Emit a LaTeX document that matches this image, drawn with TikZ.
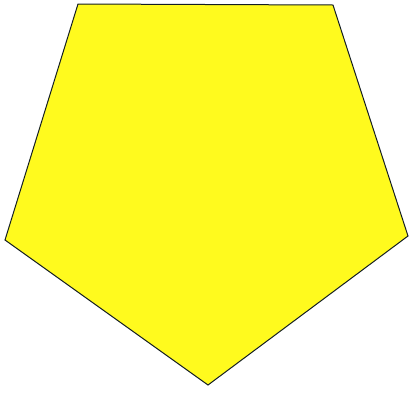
\documentclass[tikz,border=0pt]{standalone}
\usepackage{tikz}
\usetikzlibrary{positioning,calc}
\definecolor{penta}{RGB}{255,250,30}
\definecolor{rim}{RGB}{20,30,35}
\tikzset{every picture/.style={line width=0.75pt}}
\tikzset{pentagon/.style={fill=penta,draw=rim,line width=1pt,line join=miter}}

\begin{document}
\begin{tikzpicture}[x=1pt,y=-1pt]
    \useasboundingbox (0,0) rectangle (418,402);
    \coordinate (tl) at (78,4);
    \coordinate (tr) at (333,5);
    \coordinate (r) at (408,236);
    \coordinate (b) at (208,385);
    \coordinate (l) at (5,240);
    \draw[pentagon] (tl) -- (tr) -- (r) -- (b) -- (l) -- cycle;
\end{tikzpicture}
\end{document}
